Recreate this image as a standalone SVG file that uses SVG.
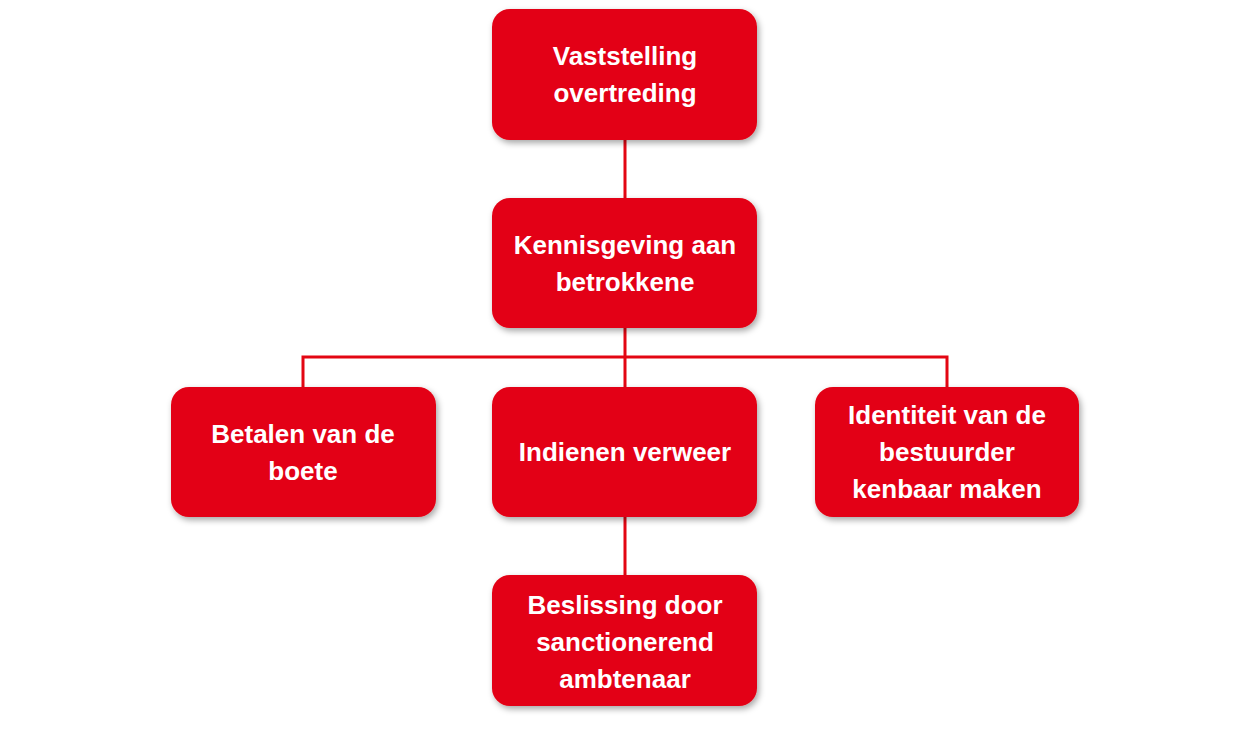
<svg xmlns="http://www.w3.org/2000/svg" width="1250" height="735" viewBox="0 0 1250 735">
<style>
.b{fill:#E30613;filter:url(#s)}
.t{fill:#fff;font-family:"Liberation Sans",Arial,sans-serif;font-weight:bold;font-size:26px;text-anchor:middle}
.c{stroke:#E30613;stroke-width:3;fill:none}
</style>
<defs><filter id="s" x="-10%" y="-10%" width="125%" height="130%"><feDropShadow dx="2" dy="3" stdDeviation="3" flood-color="#000" flood-opacity="0.35"/></filter></defs>
<rect width="1250" height="735" fill="#fff"/>
<g id="connectors">
<path class="c" d="M625 140V198M625 328V387M303 387V357H947V387M625 517V575"/>
</g>
<g id="n1"><rect class="b" x="492" y="9" width="265" height="131" rx="18"/><text class="t" x="625" y="65">Vaststelling</text><text class="t" x="625" y="102">overtreding</text></g>
<g id="n2"><rect class="b" x="492" y="198" width="265" height="130" rx="18"/><text class="t" x="625" y="254">Kennisgeving aan</text><text class="t" x="625" y="291">betrokkene</text></g>
<g id="n3"><rect class="b" x="171" y="387" width="265" height="130" rx="18"/><text class="t" x="303" y="443">Betalen van de</text><text class="t" x="303" y="480">boete</text></g>
<g id="n4"><rect class="b" x="492" y="387" width="265" height="130" rx="18"/><text class="t" x="625" y="461">Indienen verweer</text></g>
<g id="n5"><rect class="b" x="815" y="387" width="264" height="130" rx="18"/><text class="t" x="947" y="424">Identiteit van de</text><text class="t" x="947" y="461">bestuurder</text><text class="t" x="947" y="498">kenbaar maken</text></g>
<g id="n6"><rect class="b" x="492" y="575" width="265" height="131" rx="18"/><text class="t" x="625" y="614">Beslissing door</text><text class="t" x="625" y="651">sanctionerend</text><text class="t" x="625" y="688">ambtenaar</text></g>
</svg>
